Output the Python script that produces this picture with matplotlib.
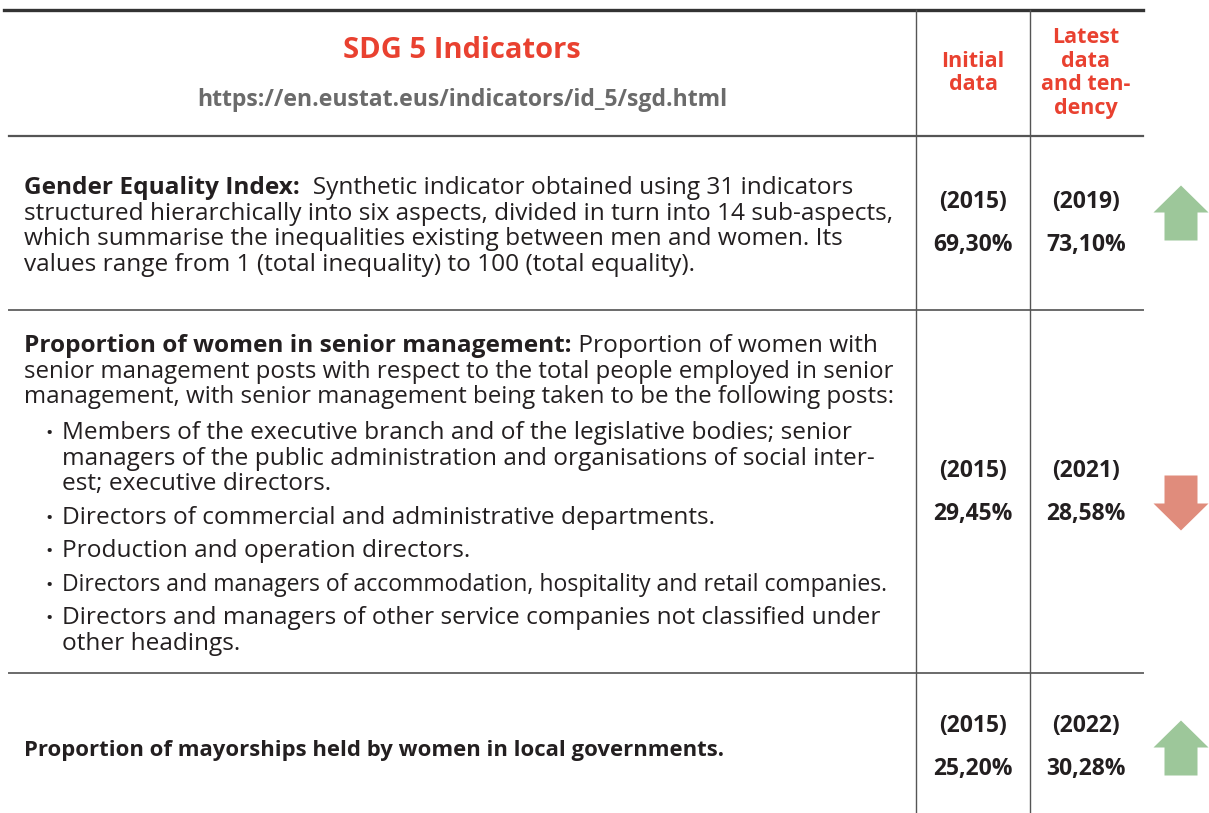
import matplotlib.pyplot as plt

# table content
title = 'SDG 5 Indicators'
url = 'https://en.eustat.eus/indicators/id_5/sgd.html'
col_initial = 'Initial\ndata'
col_latest = 'Latest\ndata\nand ten-\ndency'

indicators = ['Gender Equality Index:',
              'Proportion of women in senior management:',
              'Proportion of mayorships held by women in local governments.']
descriptions = [
    ['  Synthetic indicator obtained using 31 indicators',
     'structured hierarchically into six aspects, divided in turn into 14 sub-aspects,',
     'which summarise the inequalities existing between men and women. Its',
     'values range from 1 (total inequality) to 100 (total equality).'],
    [' Proportion of women with',
     'senior management posts with respect to the total people employed in senior',
     'management, with senior management being taken to be the following posts:'],
    [],
]
bullets = [
    ['Members of the executive branch and of the legislative bodies; senior',
     'managers of the public administration and organisations of social inter-',
     'est; executive directors.'],
    ['Directors of commercial and administrative departments.'],
    ['Production and operation directors.'],
    ['Directors and managers of accommodation, hospitality and retail companies.'],
    ['Directors and managers of other service companies not classified under',
     'other headings.'],
]
initial_years = [2015, 2015, 2015]
initial_values = [69.30, 29.45, 25.20]
latest_years = [2019, 2021, 2022]
latest_values = [73.10, 28.58, 30.28]

RED = '#e94130'
TXT = '#231f20'
LINE = '#6a6a6a'
UP = '#9dc79a'
DOWN = '#e08c7c'
FS = 17.6

fig = plt.figure(figsize=(12.09, 8.13), dpi=100)
ax = fig.add_axes([0, 0, 1, 1])
ax.set_xlim(0, 1209)
ax.set_ylim(813, 0)
ax.axis('off')
r = fig.canvas.get_renderer()


def fmt(v):
    return ('%.2f%%' % v).replace('.', ',')


def width(t):
    return t.get_window_extent(renderer=r).width  # 1 px == 1 data unit here


def body(x, y, s, maxw=None, **kw):
    t = ax.text(x, y, s, color=TXT, fontsize=FS, family='Open Sans',
                va='baseline', **kw)
    # squeeze lines that would run into the value columns
    if maxw is not None and width(t) > maxw:
        t.set_fontsize(FS * maxw / width(t))
    return t


# grid lines
ax.plot([4, 1143], [10, 10], color='#333333', lw=2.4)
ax.plot([9, 1143], [136, 136], color='#555555', lw=1.6)
for yb in [310, 673]:
    ax.plot([9, 1143], [yb, yb], color=LINE, lw=1.4)
for xv in [916, 1030]:
    ax.plot([xv, xv], [10, 813], color='#555555', lw=1.0)

# header
ax.text(462, 50, title, color=RED, fontsize=21, weight='bold', family='Open Sans',
        ha='center', va='center')
ax.text(462, 100, url, color='#6b6b6b', fontsize=16.6, weight='bold', family='Open Sans',
        ha='center', va='center')
ax.text(973, 73, col_initial, color=RED, fontsize=15.5, weight='bold', family='Open Sans',
        ha='center', va='center', linespacing=1.18)
ax.text(1086, 73, col_latest, color=RED, fontsize=15.5, weight='bold', family='Open Sans',
        ha='center', va='center', linespacing=1.18)

# indicator texts
x0 = 24
lh = 25.7
first_base = [194, 352, 756]
for i, name in enumerate(indicators):
    y = first_base[i]
    if i == 2:
        ax.text(x0, y, name, color=TXT, fontsize=15.9, weight='bold', family='Open Sans',
                va='baseline')
        continue
    t = body(x0, y, name, weight='bold')
    for j, line in enumerate(descriptions[i]):
        xx = x0 + width(t) if j == 0 else x0
        body(xx, y + j * lh, line, maxw=895 - xx)

# bullets in the second row
y = 439
for item in bullets:
    ax.text(45, y, '•', color=TXT, fontsize=14, family='Open Sans', va='baseline')
    for k, line in enumerate(item):
        body(62, y + k * lh, line, maxw=826)
    y += (len(item) - 1) * lh + 33.5

# values and tendency arrows
row_mid = [223, 492, 747]
arrow_mid = [213, 503, 748]
for i in range(3):
    m = row_mid[i]
    for xc, yr, v in [(973, initial_years[i], initial_values[i]),
                      (1086, latest_years[i], latest_values[i])]:
        ax.text(xc, m - 21, '(%d)' % yr, color=TXT, fontsize=16.5, weight='bold',
                family='Open Sans', ha='center', va='center')
        ax.text(xc, m + 22, fmt(v), color=TXT, fontsize=16.5, weight='bold',
                family='Open Sans', ha='center', va='center')
    s = 1 if latest_values[i] > initial_values[i] else -1
    cx, cy = 1181, arrow_mid[i]
    hw, sw, half = 27.5, 16.5, 27.5
    xs = [cx, cx + hw, cx + sw, cx + sw, cx - sw, cx - sw, cx - hw]
    ys = [cy - s * half, cy - s * 0.5, cy - s * 0.5, cy + s * half,
          cy + s * half, cy - s * 0.5, cy - s * 0.5]
    ax.fill(xs, ys, color=UP if s > 0 else DOWN, lw=0)

fig.savefig('out.png', dpi=100)
